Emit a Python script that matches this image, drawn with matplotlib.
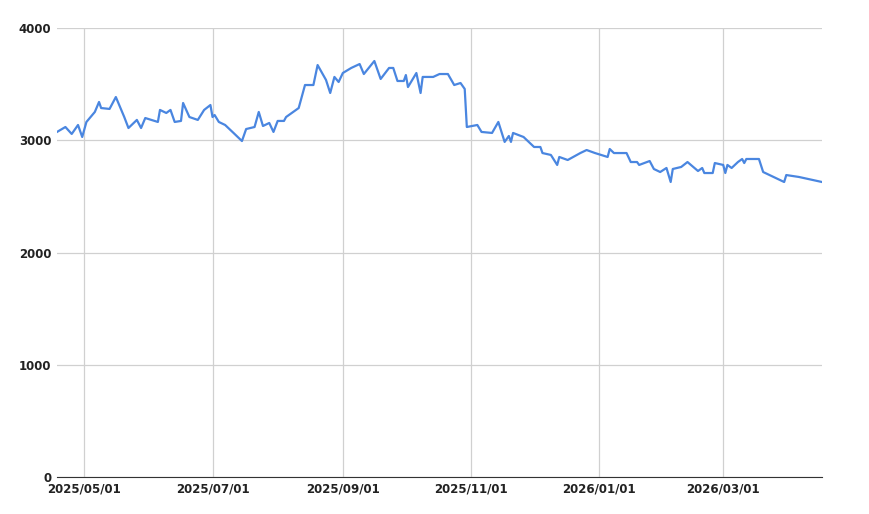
import matplotlib
matplotlib.use("Agg")
import matplotlib.pyplot as plt
import matplotlib.dates as mdates
import pandas as pd

dates = ["2025-04-18","2025-04-22","2025-04-25","2025-04-28","2025-04-30","2025-05-02","2025-05-06","2025-05-08","2025-05-09","2025-05-13",
"2025-05-16","2025-05-20","2025-05-22","2025-05-26","2025-05-28","2025-05-30","2025-06-05","2025-06-06","2025-06-09","2025-06-11",
"2025-06-13","2025-06-16","2025-06-17","2025-06-20","2025-06-24","2025-06-27","2025-06-30","2025-07-01","2025-07-02","2025-07-04",
"2025-07-07","2025-07-11","2025-07-15","2025-07-17","2025-07-21","2025-07-23","2025-07-25","2025-07-28","2025-07-30","2025-08-01",
"2025-08-04","2025-08-05","2025-08-11","2025-08-14","2025-08-18","2025-08-20","2025-08-24","2025-08-26","2025-08-28","2025-08-30",
"2025-09-01","2025-09-05","2025-09-09","2025-09-11","2025-09-16","2025-09-19","2025-09-23","2025-09-25","2025-09-27","2025-09-30",
"2025-10-01","2025-10-02","2025-10-06","2025-10-08","2025-10-09","2025-10-14","2025-10-17","2025-10-21","2025-10-24","2025-10-27",
"2025-10-29","2025-10-30","2025-11-04","2025-11-06","2025-11-11","2025-11-14","2025-11-17","2025-11-19","2025-11-20","2025-11-21",
"2025-11-26","2025-12-01","2025-12-04","2025-12-05","2025-12-09","2025-12-12","2025-12-13","2025-12-17","2025-12-23","2025-12-26",
"2025-12-30","2026-01-05","2026-01-06","2026-01-08","2026-01-14","2026-01-16","2026-01-19","2026-01-20","2026-01-25","2026-01-27",
"2026-01-30","2026-02-02","2026-02-04","2026-02-05","2026-02-09","2026-02-12","2026-02-17","2026-02-19","2026-02-20","2026-02-24",
"2026-02-25","2026-03-01","2026-03-02","2026-03-03","2026-03-05","2026-03-08","2026-03-10","2026-03-11","2026-03-12","2026-03-18",
"2026-03-20","2026-03-30","2026-03-31","2026-04-06","2026-04-17"]
values = [3074,3118,3056,3136,3029,3163,3252,3341,3287,3279,
3385,3207,3109,3181,3109,3198,3163,3270,3243,3270,
3163,3172,3332,3207,3181,3270,3314,3207,3225,3163,
3136,3065,2993,3100,3118,3252,3127,3154,3074,3172,
3172,3207,3287,3492,3492,3670,3537,3421,3564,3519,
3599,3644,3679,3590,3706,3546,3644,3644,3528,3528,
3581,3474,3599,3421,3564,3564,3590,3590,3492,3510,
3457,3118,3136,3074,3065,3163,2985,3038,2985,3065,
3029,2940,2940,2886,2869,2780,2851,2824,2886,2913,
2886,2851,2922,2886,2886,2806,2806,2780,2815,2744,
2717,2753,2628,2744,2762,2806,2726,2753,2708,2708,
2797,2780,2708,2780,2753,2806,2833,2797,2833,2833,
2717,2628,2690,2673,2628]
tick_labels = ["2025/05/01","2025/07/01","2025/09/01","2025/11/01","2026/01/01","2026/03/01"]
y_ticks = [0, 1000, 2000, 3000, 4000]

x = pd.to_datetime(dates)
fig = plt.figure(figsize=(8.7, 5.14), dpi=100)
ax = fig.add_axes([57/870, 1-477/514, (822-57)/870, (477-28)/514])
ax.plot(x, values, color="#4a86e0", lw=1.6)
ax.set_xlim(pd.Timestamp("2025-04-18"), pd.Timestamp("2026-04-17"))
ax.set_ylim(0, 4000)
ax.set_yticks(y_ticks)
ax.set_yticklabels([str(v) for v in y_ticks])
xt = pd.to_datetime([t.replace("/", "-") for t in tick_labels])
ax.set_xticks(xt)
ax.set_xticklabels(tick_labels)
ax.grid(True, color="#d0d0d0", lw=0.9)
for s in ["top", "right", "left"]:
    ax.spines[s].set_visible(False)
ax.spines["bottom"].set_color("#333333")
ax.tick_params(length=0, labelsize=8.5, colors="#222222", pad=4)
for lab in ax.get_xticklabels() + ax.get_yticklabels():
    lab.set_fontweight("semibold")
fig.savefig("out.png", dpi=100)
